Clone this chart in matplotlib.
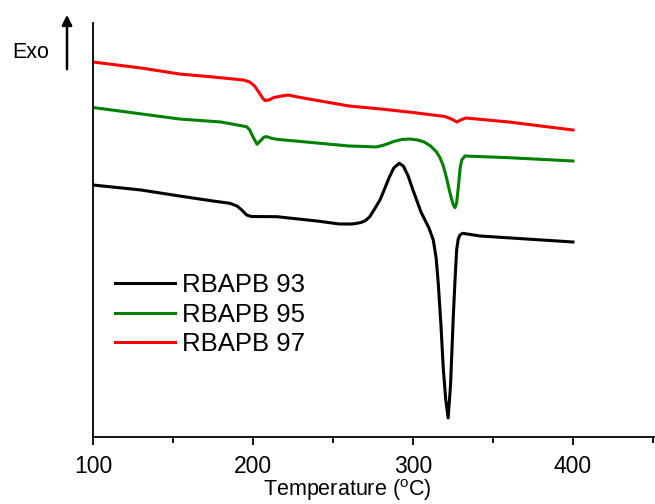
import matplotlib
matplotlib.use('Agg')
import matplotlib.pyplot as plt
import numpy as np

plt.rcParams['font.family'] = ['Liberation Sans', 'DejaVu Sans']
plt.rcParams['mathtext.fontset'] = 'custom'
plt.rcParams['mathtext.rm'] = 'Liberation Sans'

# DSC 曲线 (温度 °C, 热流 任意单位)
t93 = [100, 130, 154, 175, 185.6, 190, 193, 196, 199, 215, 240, 254, 262, 267, 270, 273, 276,
       279.4, 282, 285, 288, 291.4, 294, 297, 300, 302.3, 305, 307.5, 310, 312.7, 314.5, 315.8,
       317.5, 318.9, 320.5, 322, 323.5, 325.2, 326.3, 327.3, 328.3, 329.4, 331, 342, 400]
y93 = [2.52, 2.47, 2.41, 2.36, 2.337, 2.31, 2.27, 2.22, 2.205, 2.203, 2.16, 2.13, 2.13, 2.143, 2.16,
       2.203, 2.28, 2.37, 2.47, 2.59, 2.69, 2.737, 2.71, 2.61, 2.47, 2.37, 2.25, 2.17, 2.09, 1.97,
       1.79, 1.54, 1.12, 0.70, 0.37, 0.19, 0.52, 1.20, 1.57, 1.87, 1.98, 2.02, 2.037, 2.01, 1.95]

t95 = [100, 154, 180, 196, 198, 200, 202.6, 204.5, 207, 208.9, 211, 214.8, 240, 260, 270, 277,
       282, 288, 293, 298, 303, 307, 311, 314.6, 317, 319, 321, 323, 325, 326.3, 327.3, 328.5,
       329.5, 330.5, 332.5, 360, 400]
y95 = [3.295, 3.18, 3.15, 3.103, 3.07, 3.00, 2.927, 2.96, 3.00, 3.003, 2.99, 2.977, 2.94, 2.91,
       2.905, 2.90, 2.92, 2.955, 2.975, 2.98, 2.97, 2.95, 2.91, 2.853, 2.79, 2.71, 2.59, 2.45, 2.33,
       2.293, 2.34, 2.52, 2.69, 2.77, 2.81, 2.793, 2.76]

t97 = [100, 130, 154, 175, 194, 198, 201, 204, 206, 207.5, 210, 213, 218, 222, 228, 235, 260,
       280, 300, 320, 324, 327.5, 330.5, 333, 360, 400]
y97 = [3.75, 3.69, 3.63, 3.60, 3.57, 3.55, 3.51, 3.44, 3.39, 3.365, 3.37, 3.395, 3.41, 3.42, 3.40,
       3.38, 3.31, 3.28, 3.245, 3.205, 3.18, 3.15, 3.175, 3.19, 3.15, 3.07]

labels = ['RBAPB 93', 'RBAPB 95', 'RBAPB 97']
colors = ['black', 'green', 'red']

fig = plt.figure(figsize=(6.55, 5.04), dpi=100)
ax = fig.add_axes([93/655, 67/504, 562/655, 414/504])

for t, y, lab, c in zip([t93, t95, t97], [y93, y95, y97], labels, colors):
    ax.plot(t, y, color=c, lw=2.2, label=lab, solid_joinstyle='round')

ax.set_xlim(100, 451.3)
ax.set_ylim(0, 4.14)
ax.set_xticks([100, 200, 300, 400])
ax.set_xticks([150, 250, 350, 450], minor=True)
ax.set_yticks([])
ax.spines['top'].set_visible(False)
ax.spines['right'].set_visible(False)
ax.spines['left'].set_linewidth(1.3)
ax.spines['bottom'].set_linewidth(1.3)
ax.tick_params(axis='x', which='major', length=6, width=1.3, labelsize=16.5, pad=7)
ax.tick_params(axis='x', which='minor', length=4, width=1.3)
ax.set_xlabel(r'Temperature ($^{\rm o}$C)', fontsize=15.5)
ax.xaxis.set_label_coords(254/562, -0.098)

ax.legend(loc='center left', bbox_to_anchor=(115/655, 189.5/504), bbox_transform=fig.transFigure,
          frameon=False, fontsize=18.5, handlelength=2.34, handletextpad=0.27,
          labelspacing=0.23, borderpad=0, borderaxespad=0)

# 放热方向箭头
fig.add_artist(matplotlib.patches.FancyArrowPatch((67/655, 432/504), (67/655, 492/504),
                                                  transform=fig.transFigure, arrowstyle='-|>',
                                                  mutation_scale=15, lw=1.8, color='black'))
fig.text(12/655, 452/504, 'Exo', fontsize=15.5, ha='left', va='center')

fig.savefig('out.png', dpi=100)
